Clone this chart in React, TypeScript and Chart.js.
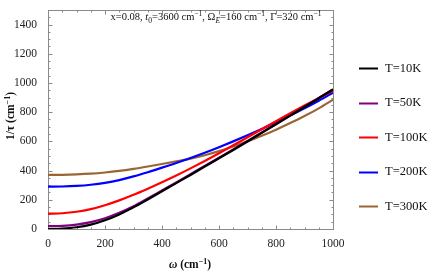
import React, { useEffect, useRef } from "react";
import { Chart, registerables } from "chart.js";

Chart.register(...registerables);

const omega = [0, 50, 100, 150, 200, 250, 300, 350, 400, 450, 500, 550, 600, 650, 700, 750, 800, 850, 900, 950, 1000];
const t10K = [0, 3, 12, 30, 60, 100, 148, 202, 258, 314, 370, 428, 484, 541, 599, 658, 717, 776, 835, 895, 955];
const t50K = [20, 22, 30, 47, 74, 111, 156, 209, 264, 319, 375, 432, 488, 544, 602, 661, 719, 778, 837, 897, 956];
const t100K = [105, 108, 118, 136, 163, 196, 234, 276, 320, 366, 415, 466, 519, 573, 628, 683, 738, 792, 845, 896, 946];
const t200K = [290, 291, 295, 303, 316, 335, 360, 389, 420, 452, 486, 522, 560, 600, 642, 685, 730, 777, 826, 878, 933];
const t300K = [370, 371, 374, 379, 387, 398, 412, 428, 445, 463, 482, 505, 533, 565, 600, 638, 680, 725, 773, 826, 885];
const seriesLabels = ["T=10K", "T=50K", "T=100K", "T=200K", "T=300K"];
const seriesColors = ["#000000", "#800080", "#ff0000", "#0000ff", "#996633"];
const xTicks = [0, 200, 400, 600, 800, 1000];
const yTicks = [0, 200, 400, 600, 800, 1000, 1200, 1400];

const SERIF = "'Liberation Serif', 'DejaVu Serif', serif";

type Run = { t: string; italic?: boolean; bold?: boolean; size: number; dy?: number };

function runFont(r: Run) {
  return `${r.italic ? "italic " : ""}${r.bold ? "bold " : ""}${r.size}px ${SERIF}`;
}
function runsWidth(ctx: CanvasRenderingContext2D, runs: Run[]) {
  let w = 0;
  for (const r of runs) {
    ctx.font = runFont(r);
    w += ctx.measureText(r.t).width;
  }
  return w;
}
function drawRuns(ctx: CanvasRenderingContext2D, x: number, y: number, runs: Run[]) {
  let cx = x;
  ctx.textBaseline = "alphabetic";
  ctx.textAlign = "left";
  for (const r of runs) {
    ctx.font = runFont(r);
    ctx.fillText(r.t, cx, y + (r.dy || 0));
    cx += ctx.measureText(r.t).width;
  }
}

const decorPlugin = {
  id: "decor",
  beforeDatasetsDraw(chart: any) {
    const { ctx, chartArea } = chart;
    const xs = chart.scales.x;
    const ys = chart.scales.y;
    ctx.save();
    ctx.strokeStyle = "#8a8a8a";
    ctx.lineWidth = 1;
    const L = Math.round(chartArea.left) + 0.5;
    const R = Math.round(chartArea.right) + 0.5;
    const T = Math.round(chartArea.top) + 0.5;
    const B = Math.round(chartArea.bottom) + 0.5;
    ctx.strokeRect(L, T, R - L, B - T);
    ctx.beginPath();
    for (let v = 0; v <= 1000; v += 50) {
      const px = Math.round(xs.getPixelForValue(v)) + 0.5;
      const len = v % 200 === 0 ? 4 : 2;
      ctx.moveTo(px, B);
      ctx.lineTo(px, B - len);
      ctx.moveTo(px, T);
      ctx.lineTo(px, T + len);
    }
    for (let v = 0; v <= 1500; v += 50) {
      const py = Math.round(ys.getPixelForValue(v)) + 0.5;
      const len = v % 200 === 0 ? 4 : 2;
      ctx.moveTo(L, py);
      ctx.lineTo(L + len, py);
      ctx.moveTo(R, py);
      ctx.lineTo(R - len, py);
    }
    ctx.stroke();
    ctx.restore();
  },
  afterDraw(chart: any) {
    const { ctx } = chart;
    ctx.save();
    ctx.fillStyle = "#111";
    const ann: Run[] = [
      { t: "x=0.08, ", size: 10.5 },
      { t: "t", italic: true, size: 10.5 },
      { t: "0", size: 7.5, dy: 2.5 },
      { t: "=3600 cm", size: 10.5 },
      { t: "\u22121", size: 7.5, dy: -4 },
      { t: ", \u03a9", size: 10.5 },
      { t: "E", italic: true, size: 7.5, dy: 2.5 },
      { t: "=160 cm", size: 10.5 },
      { t: "\u22121", size: 7.5, dy: -4 },
      { t: ", \u0393=320 cm", size: 10.5 },
      { t: "\u22121", size: 7.5, dy: -4 },
    ];
    const aw = runsWidth(ctx, ann);
    drawRuns(ctx, 216 - aw / 2, 20, ann);

    const xt: Run[] = [
      { t: "\u03c9", italic: true, bold: true, size: 11.5 },
      { t: " (cm", bold: true, size: 11.5 },
      { t: "\u22121", bold: true, size: 8, dy: -4 },
      { t: ")", bold: true, size: 11.5 },
    ];
    const xw = runsWidth(ctx, xt);
    drawRuns(ctx, 190 - xw / 2, 268, xt);

    const yt: Run[] = [
      { t: "1/\u03c4 (cm", bold: true, size: 11.5 },
      { t: "\u22121", bold: true, size: 8, dy: -4 },
      { t: ")", bold: true, size: 11.5 },
    ];
    const yw = runsWidth(ctx, yt);
    ctx.save();
    ctx.translate(14, 116);
    ctx.rotate(-Math.PI / 2);
    drawRuns(ctx, -yw / 2, 0, yt);
    ctx.restore();

    const ds = chart.data.datasets;
    for (let i = 0; i < ds.length; i++) {
      const y = 68 + i * 34.5;
      ctx.strokeStyle = ds[i].borderColor;
      ctx.lineWidth = 2;
      ctx.beginPath();
      ctx.moveTo(359, Math.round(y) + 0.5);
      ctx.lineTo(378, Math.round(y) + 0.5);
      ctx.stroke();
      ctx.fillStyle = "#111";
      ctx.font = `12.5px ${SERIF}`;
      ctx.textBaseline = "middle";
      ctx.textAlign = "left";
      ctx.fillText(ds[i].label, 385, y + 0.5);
    }
    ctx.restore();
  },
};

export default function App() {
  const ref = useRef<HTMLCanvasElement | null>(null);
  useEffect(() => {
    if (!ref.current) return;
    const all = [t10K, t50K, t100K, t200K, t300K];
    const chart = new Chart(ref.current, {
      type: "line",
      data: {
        datasets: all.map((arr, i) => ({
          label: seriesLabels[i],
          data: omega.map((x, j) => ({ x, y: arr[j] })),
          borderColor: seriesColors[i],
          backgroundColor: seriesColors[i],
          borderWidth: 2.2,
          pointRadius: 0,
          cubicInterpolationMode: "monotone" as const,
          fill: false,
        })),
      },
      options: {
        animation: false,
        responsive: false,
        layout: { padding: { top: 3, right: 103, left: 0, bottom: 0 } },
        plugins: { legend: { display: false }, tooltip: { enabled: false } },
        scales: {
          x: {
            type: "linear",
            min: 0,
            max: 1000,
            afterBuildTicks: (s: any) => { s.ticks = xTicks.map((v) => ({ value: v })); },
            afterFit: (s: any) => { s.height = 44; },
            grid: { display: false },
            border: { display: false },
            ticks: {
              font: { family: SERIF, size: 11.5 },
              color: "#222",
              padding: 0,
              maxRotation: 0,
              callback: (v: any) => String(v),
            },
          },
          y: {
            type: "linear",
            min: 0,
            max: 1500,
            afterBuildTicks: (s: any) => { s.ticks = yTicks.map((v) => ({ value: v })); },
            afterFit: (s: any) => { s.width = 48; },
            grid: { display: false },
            border: { display: false },
            ticks: {
              font: { family: SERIF, size: 11.5 },
              color: "#222",
              padding: 3,
              callback: (v: any) => String(v),
            },
          },
        },
      },
      plugins: [decorPlugin],
    });
    return () => chart.destroy();
  }, []);
  return (
    <div style={{ position: "fixed", left: 0, top: 0, width: 436, height: 273, background: "#fff" }}>
      <canvas ref={ref} width={436} height={273} />
    </div>
  );
}
